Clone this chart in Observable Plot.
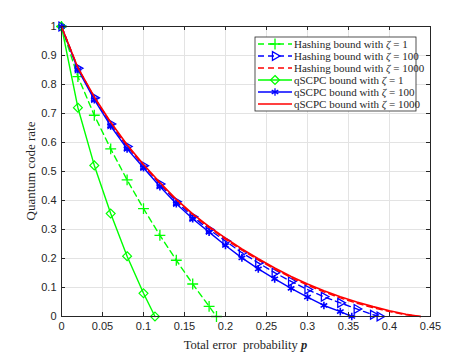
<!DOCTYPE html>
<html>
<head>
<meta charset="utf-8">
<script src="https://cdn.jsdelivr.net/npm/d3@7"></script>
<script src="https://cdn.jsdelivr.net/npm/@observablehq/plot@0.6"></script>
<style>
  html, body { margin: 0; padding: 0; background: #fff; }
  #chart svg { display: block; }
</style>
</head>
<body>
<div id="chart"></div>
<script>
// ---- data ----
const xTicks = [0, 0.05, 0.1, 0.15, 0.2, 0.25, 0.3, 0.35, 0.4, 0.45];
const xTickLabels = ["0", "0.05", "0.1", "0.15", "0.2", "0.25", "0.3", "0.35", "0.4", "0.45"];
const yTicks = [0, 0.1, 0.2, 0.3, 0.4, 0.5, 0.6, 0.7, 0.8, 0.9, 1];
const yTickLabels = ["0", "0.1", "0.2", "0.3", "0.4", "0.5", "0.6", "0.7", "0.8", "0.9", "1"];

const seriesNames = [
  "Hashing bound with ζ = 1",
  "Hashing bound with ζ = 100",
  "Hashing bound with ζ = 1000",
  "qSCPC bound with ζ = 1",
  "qSCPC bound with ζ = 100",
  "qSCPC bound with ζ = 1000"
];

const pH1 = [0, 0.02, 0.04, 0.06, 0.08, 0.10, 0.12, 0.14, 0.16, 0.18, 0.189];
const rH1 = [1, 0.827, 0.694, 0.578, 0.471, 0.372, 0.280, 0.194, 0.112, 0.035, 0];

const pH100 = [0, 0.02, 0.04, 0.06, 0.08, 0.10, 0.12, 0.14, 0.16, 0.18, 0.20, 0.22, 0.24, 0.26, 0.28, 0.30, 0.32, 0.34, 0.36, 0.38, 0.388];
const rH100 = [1, 0.856, 0.754, 0.664, 0.586, 0.520, 0.457, 0.396, 0.344, 0.300, 0.260, 0.220, 0.185, 0.151, 0.121, 0.093, 0.068, 0.047, 0.026, 0.006, 0];

const pH1000 = [0, 0.02, 0.04, 0.06, 0.08, 0.10, 0.12, 0.14, 0.16, 0.18, 0.20, 0.22, 0.24, 0.26, 0.28, 0.30, 0.32, 0.34, 0.36, 0.38, 0.40, 0.42, 0.438];
const rH1000 = [1, 0.857, 0.755, 0.668, 0.589, 0.521, 0.459, 0.401, 0.351, 0.306, 0.266, 0.229, 0.195, 0.163, 0.134, 0.108, 0.085, 0.064, 0.046, 0.030, 0.017, 0.006, 0];

const pQ1 = [0, 0.02, 0.04, 0.06, 0.08, 0.10, 0.114];
const rQ1 = [1, 0.720, 0.521, 0.355, 0.208, 0.080, 0];

const pQ100 = [0, 0.02, 0.04, 0.06, 0.08, 0.10, 0.12, 0.14, 0.16, 0.18, 0.20, 0.22, 0.24, 0.26, 0.28, 0.30, 0.32, 0.34, 0.354];
const rQ100 = [1, 0.852, 0.748, 0.657, 0.578, 0.513, 0.448, 0.389, 0.337, 0.291, 0.245, 0.202, 0.164, 0.130, 0.097, 0.067, 0.038, 0.017, 0];

const pQ1000 = [0, 0.02, 0.04, 0.06, 0.08, 0.10, 0.12, 0.14, 0.16, 0.18, 0.20, 0.22, 0.24, 0.26, 0.28, 0.30, 0.32, 0.34, 0.36, 0.38, 0.40, 0.42, 0.438];
const rQ1000 = [1, 0.858, 0.757, 0.670, 0.592, 0.524, 0.462, 0.404, 0.354, 0.310, 0.270, 0.233, 0.199, 0.167, 0.138, 0.112, 0.089, 0.068, 0.050, 0.034, 0.020, 0.008, 0];

// ---- build tables ----
const toRows = (ps, rs) => ps.map((p, i) => ({p, r: rs[i]}));
const H1 = toRows(pH1, rH1), H100 = toRows(pH100, rH100), H1000 = toRows(pH1000, rH1000);
const Q1 = toRows(pQ1, rQ1), Q100 = toRows(pQ100, rQ100), Q1000 = toRows(pQ1000, rQ1000);

const GREEN = "#00ff00", BLUE = "#0000ff", RED = "#ff0000", AX = "#262626";
const W = 474, H = 355, ML = 61, MR = 44, MT = 26, MB = 39;
const PW = W - ML - MR, PH = H - MT - MB;
const TL = 4; // inward tick length
const DASH = "6,4";

const chart = Plot.plot({
  width: W, height: H,
  marginLeft: ML, marginRight: MR, marginTop: MT, marginBottom: MB,
  style: {fontFamily: "'Liberation Sans', Arial, sans-serif", fontSize: "11px", color: AX, background: "#fff"},
  x: {domain: [0, 0.45]},
  y: {domain: [0, 1]},
  marks: [
    Plot.gridX(xTicks, {stroke: "#e3e3e3", strokeOpacity: 1}),
    Plot.gridY(yTicks, {stroke: "#e3e3e3", strokeOpacity: 1}),
    // hashing bounds (dashed)
    Plot.line(H1, {x: "p", y: "r", stroke: GREEN, strokeWidth: 1.4, strokeDasharray: DASH}),
    Plot.dot(H1, {x: "p", y: "r", symbol: "plus", r: 3.6, stroke: GREEN, strokeWidth: 1.3}),
    Plot.line(H100, {x: "p", y: "r", stroke: BLUE, strokeWidth: 1.4, strokeDasharray: DASH}),
    Plot.dot(H100, {x: "p", y: "r", symbol: "triangle2", rotate: 90, r: 4.2, stroke: BLUE, strokeWidth: 1.3}),
    Plot.line(H1000, {x: "p", y: "r", stroke: RED, strokeWidth: 1.4, strokeDasharray: DASH}),
    // qSCPC bounds (solid)
    Plot.line(Q1, {x: "p", y: "r", stroke: GREEN, strokeWidth: 1.4}),
    Plot.dot(Q1, {x: "p", y: "r", symbol: "diamond2", r: 4, stroke: GREEN, strokeWidth: 1.2}),
    Plot.line(Q100, {x: "p", y: "r", stroke: BLUE, strokeWidth: 1.4}),
    Plot.dot(Q100, {x: "p", y: "r", symbol: "asterisk", r: 3.6, stroke: BLUE, strokeWidth: 1.6}),
    Plot.line(Q1000, {x: "p", y: "r", stroke: RED, strokeWidth: 1.6}),
    // frame and inward ticks
    Plot.frame({stroke: AX, strokeWidth: 1}),
    Plot.ruleX(xTicks, {x: d => d, insetTop: PH - TL, stroke: AX}),
    Plot.ruleX(xTicks, {x: d => d, insetBottom: PH - TL, stroke: AX}),
    Plot.ruleY(yTicks, {y: d => d, insetRight: PW - TL, stroke: AX}),
    Plot.ruleY(yTicks, {y: d => d, insetLeft: PW - TL, stroke: AX}),
    Plot.axisX(xTicks, {tickSize: 0, tickPadding: 6, tickFormat: (d, i) => xTickLabels[i], label: null, fill: AX}),
    Plot.axisY(yTicks, {tickSize: 0, tickPadding: 5, tickFormat: (d, i) => yTickLabels[i], label: null, fill: AX})
  ]
});
document.getElementById("chart").appendChild(chart);

// ---- axis labels (serif, with bold italic p) ----
const svg = d3.select(chart);
const serif = "'Liberation Serif', 'Times New Roman', serif";
const xl = svg.append("text")
  .attr("x", ML + PW / 2).attr("y", H - 6)
  .attr("text-anchor", "middle")
  .attr("font-family", serif).attr("font-size", 12.5).attr("fill", AX)
  .attr("xml:space", "preserve");
xl.append("tspan").text("Total error  probability ");
xl.append("tspan").attr("font-weight", "bold").attr("font-style", "italic").text("p");

svg.append("text")
  .attr("transform", `translate(${35},${MT + PH / 2}) rotate(-90)`)
  .attr("text-anchor", "middle")
  .attr("font-family", serif).attr("font-size", 13).attr("fill", AX)
  .text("Quantum code rate");

// ---- legend ----
const lg = svg.append("g");
const LX0 = 255, LX1 = 416, LY0 = 37, LY1 = 111;
lg.append("rect").attr("x", LX0).attr("y", LY0).attr("width", LX1 - LX0).attr("height", LY1 - LY0)
  .attr("fill", "#fff").attr("stroke", AX).attr("stroke-width", 0.8);
const legendStyles = [
  {color: GREEN, dash: DASH, sym: d3.symbolPlus, rot: 0, size: 40},
  {color: BLUE, dash: DASH, sym: d3.symbolTriangle2, rot: 90, size: 55},
  {color: RED, dash: DASH, sym: null},
  {color: GREEN, dash: null, sym: d3.symbolDiamond2, rot: 0, size: 50},
  {color: BLUE, dash: null, sym: d3.symbolAsterisk, rot: 0, size: 40},
  {color: RED, dash: null, sym: null}
];
seriesNames.forEach((name, i) => {
  const y = 44 + i * 12;
  const s = legendStyles[i];
  lg.append("line").attr("x1", 258).attr("x2", 292).attr("y1", y).attr("y2", y)
    .attr("stroke", s.color).attr("stroke-width", 1.4)
    .attr("stroke-dasharray", s.dash);
  if (s.sym) {
    lg.append("path").attr("d", d3.symbol(s.sym, s.size)())
      .attr("transform", `translate(275,${y}) rotate(${s.rot})`)
      .attr("fill", "none").attr("stroke", s.color).attr("stroke-width", 1.3);
  }
  const parts = name.split("ζ");
  const t = lg.append("text").attr("x", 294).attr("y", y + 4)
    .attr("text-anchor", "start")
    .attr("font-family", serif).attr("font-size", 11).attr("fill", AX);
  t.append("tspan").text(parts[0]);
  t.append("tspan").attr("font-style", "italic").text("ζ");
  t.append("tspan").text(parts[1]);
});
</script>
</body>
</html>
